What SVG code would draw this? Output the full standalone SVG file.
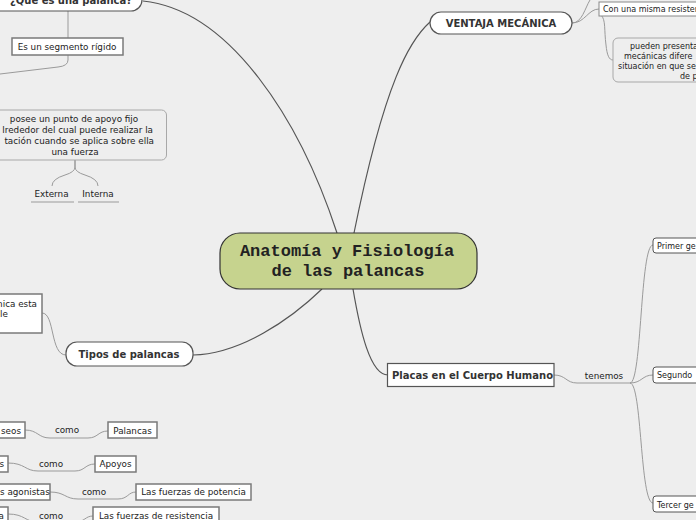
<svg xmlns="http://www.w3.org/2000/svg" width="696" height="520" viewBox="0 0 696 520">
<style>
.bg{fill:#eeeeee}
.main{fill:none;stroke:#555;stroke-width:1.2}
.sub{fill:none;stroke:#9a9a9a;stroke-width:1}
.topic{fill:#fff;stroke:#555;stroke-width:1.2}
.box{fill:#fff;stroke:#7a7a7a;stroke-width:1.5}
.soft{fill:#eeeeee;stroke:#a8a8a8;stroke-width:1}
.rbox{fill:#fff;stroke:#555;stroke-width:1}
.tb{font-family:"DejaVu Sans",Verdana,sans-serif;font-weight:bold;font-size:10px;fill:#333}
.t{font-family:"DejaVu Sans",Verdana,sans-serif;font-size:8.8px;fill:#222}
.ts{font-family:"DejaVu Sans",Verdana,sans-serif;font-size:8px;fill:#222}
.c{text-anchor:middle}
.e{text-anchor:end}
.title{font-family:"Liberation Mono","Courier New",monospace;font-weight:bold;font-size:17px;fill:#222;text-anchor:middle}
</style>
<rect class="bg" x="0" y="0" width="696" height="520"/>
<g id="connectors">
<path class="main" d="M143,1 C230,10 300,120 337,233"/>
<path class="main" d="M354,233 C385,80 410,40 430,22"/>
<path class="main" d="M322,289 C290,320 240,354 193,355"/>
<path class="main" d="M353,289 C360,330 370,375 388,375"/>
<path class="sub" d="M68,11 L68,38"/>
<path class="sub" d="M68,55 L68,60 Q68,66 58,67 L0,74"/>
<path class="sub" d="M75,160 L75,167 Q75,172 65,175 Q52,179 52,186"/>
<path class="sub" d="M75,160 L75,167 Q75,172 85,175 Q98,179 98,186"/>
<path class="sub" d="M31,202 L74,202"/>
<path class="sub" d="M78,202 L119,202"/>
<path class="sub" d="M42,313 C55,313 50,355 66,355"/>
<path class="sub" d="M25,430 C38,430 38,438 50,438 L88,438 C98,438 98,431 108,431"/>
<path class="sub" d="M8,463 C25,463 25,471 38,471 L75,471 C85,471 85,464 95,464"/>
<path class="sub" d="M50,492 C65,492 65,499 78,499 L118,499 C128,499 128,492 136,492"/>
<path class="sub" d="M8,514 C25,514 25,522 38,522 L75,522 C85,522 85,516 93,516"/>
<path class="sub" d="M572,23 C582,23 585,8 590,0"/>
<path class="sub" d="M572,23 C585,23 588,9 599,9"/>
<path class="sub" d="M601,15 C606,20 604,30 606,45 C607,55 609,60 613,60"/>
<path class="sub" d="M554,375 C566,375 566,383 577,383 L630,383"/>
<path class="sub" d="M630,383 C642,383 640,245 653,245"/>
<path class="sub" d="M630,383 C642,383 642,375 653,375"/>
<path class="sub" d="M630,383 C642,383 640,503 653,503"/>
</g>
<g id="central">
<rect x="220" y="233" width="257" height="56" rx="20" fill="#c6d38e" stroke="#333" stroke-width="1.2"/>
<text class="title" x="347" y="256">Anatomía y Fisiología</text>
<text class="title" x="348" y="276">de las palancas</text>
</g>
<g id="que-es">
<rect class="topic" x="-12" y="-14" width="154" height="25" rx="11"/>
<text class="tb c" x="71" y="4">¿Que es una palanca?</text>
</g>
<g id="segmento">
<rect class="box" x="12" y="38" width="111" height="17"/>
<text class="t c" x="67" y="50">Es un segmento rígido</text>
</g>
<g id="posee">
<rect class="soft" x="-10" y="110" width="176.5" height="50" rx="5"/>
<text class="t c" x="74" y="122">posee un punto de apoyo fijo</text>
<text class="t e" x="153" y="133">lrededor del cual puede realizar la</text>
<text class="t e" x="154" y="144">tación cuando se aplica sobre ella</text>
<text class="t c" x="75" y="155">una fuerza</text>
</g>
<g id="externa"><text class="t c" x="51.5" y="197">Externa</text></g>
<g id="interna"><text class="t c" x="98" y="197">Interna</text></g>
<g id="mecanica-esta">
<rect class="box" x="-10" y="294" width="52" height="39"/>
<text class="t e" x="37" y="307">nica esta</text>
<text class="t" x="0" y="317">le</text>
</g>
<g id="tipos">
<rect class="topic" x="66" y="342" width="127" height="24" rx="11"/>
<text class="tb c" x="129" y="358">Tipos de palancas</text>
</g>
<g id="huesos">
<rect class="box" x="-10" y="422" width="35" height="16"/>
<text class="t e" x="21" y="434">seos</text>
</g>
<g id="como1"><text class="t c" x="67" y="433">como</text></g>
<g id="palancas">
<rect class="box" x="108" y="422" width="49" height="16"/>
<text class="t c" x="132.5" y="434">Palancas</text>
</g>
<g id="art">
<rect class="box" x="-10" y="456" width="18" height="16"/>
<text class="t e" x="4" y="467">s</text>
</g>
<g id="como2"><text class="t c" x="51" y="467">como</text></g>
<g id="apoyos">
<rect class="box" x="95" y="456" width="41" height="16"/>
<text class="t c" x="115.5" y="467">Apoyos</text>
</g>
<g id="agonistas">
<rect class="box" x="-10" y="484" width="60" height="16"/>
<text class="t" x="0" y="495">s agonistas</text>
</g>
<g id="como3"><text class="t c" x="94" y="495">como</text></g>
<g id="potencia">
<rect class="box" x="136" y="484" width="115" height="16"/>
<text class="t c" x="193.5" y="495">Las fuerzas de potencia</text>
</g>
<g id="carga">
<rect class="box" x="-10" y="507" width="18" height="16"/>
<text class="t e" x="4" y="518.5">a</text>
</g>
<g id="como4"><text class="t c" x="51" y="518.5">como</text></g>
<g id="resistencia">
<rect class="box" x="93" y="507" width="126" height="16"/>
<text class="t c" x="156" y="518.5">Las fuerzas de resistencia</text>
</g>
<g id="ventaja">
<rect class="topic" x="430" y="12" width="142" height="22" rx="11"/>
<text class="tb c" x="501" y="27">VENTAJA MECÁNICA</text>
</g>
<g id="con-una">
<rect x="599" y="2" width="110" height="14" fill="#fff" stroke="#888" stroke-width="1"/>
<text class="ts" x="603" y="12">Con una misma resisten</text>
</g>
<g id="pueden">
<rect class="soft" x="613" y="38" width="100" height="44" rx="5"/>
<text class="ts" x="630" y="48.5">pueden presenta</text>
<text class="ts" x="624" y="58.5">mecánicas difere</text>
<text class="ts" x="618" y="69">situación en que se</text>
<text class="ts" x="680" y="79">de p</text>
</g>
<g id="placas">
<rect class="topic" x="387.5" y="363.5" width="166.5" height="23"/>
<text class="tb" x="392" y="379">Placas en el Cuerpo Humano</text>
</g>
<g id="tenemos"><text class="t c" x="604" y="378.5">tenemos</text></g>
<g id="primer">
<rect class="rbox" x="653" y="238" width="60" height="15" rx="3"/>
<text class="ts" x="657" y="248.5">Primer ge</text>
</g>
<g id="segundo">
<rect class="rbox" x="653" y="367" width="60" height="16" rx="3"/>
<text class="ts" x="657" y="378">Segundo</text>
</g>
<g id="tercer">
<rect class="rbox" x="653" y="496" width="60" height="16" rx="3"/>
<text class="ts" x="657" y="507.5">Tercer ge</text>
</g>
</svg>
